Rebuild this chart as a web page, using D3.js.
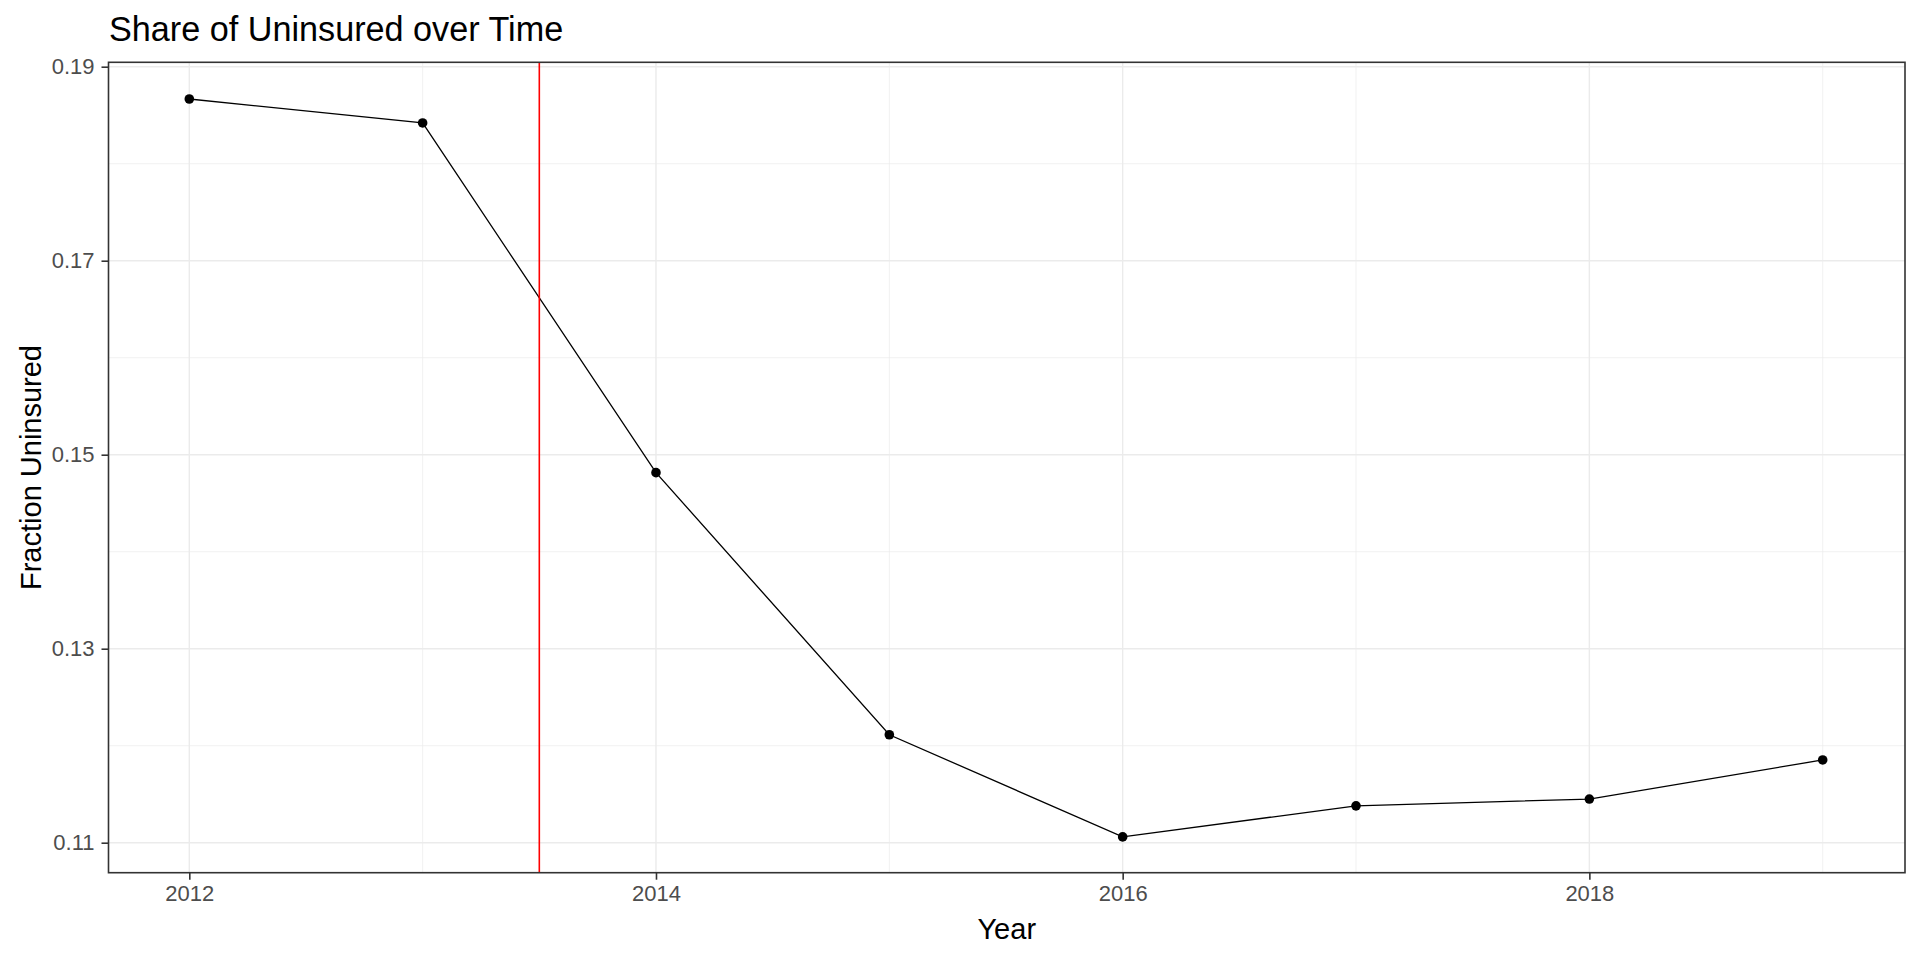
<!DOCTYPE html>
<html>
<head>
<meta charset="utf-8">
<script src="https://cdn.jsdelivr.net/npm/d3@7/dist/d3.min.js"></script>
<style>
  html, body { margin: 0; padding: 0; background: #fff; }
  svg { display: block; font-family: "Liberation Sans", Arial, sans-serif; }
</style>
</head>
<body>
<svg id="chart" width="1920" height="960"></svg>
<script>
const years = [2012, 2013, 2014, 2015, 2016, 2017, 2018, 2019];
const uninsured = [0.18667, 0.1842, 0.14815, 0.12113, 0.1106, 0.1138, 0.1145, 0.11853];
const xTicks = [2012, 2014, 2016, 2018];
const xMinor = [2013, 2015, 2017, 2019];
const yTicks = [0.11, 0.13, 0.15, 0.17, 0.19];
const yMinor = [0.12, 0.14, 0.16, 0.18];
const policyYear = [2013.5];
const titleText = "Share of Uninsured over Time";
const xLabel = "Year";
const yLabel = "Fraction Uninsured";

const svg = d3.select("#chart");
const panel = { left: 108.5, right: 1905, top: 62.3, bottom: 872.7 };

const x = d3.scaleLinear().domain([2012, 2019]).range([189.3, 1822.7]);
const y = d3.scaleLinear().domain([0.11, 0.19]).range([842.7, 66.7]);

svg.append("rect")
  .attr("x", panel.left).attr("y", panel.top)
  .attr("width", panel.right - panel.left).attr("height", panel.bottom - panel.top)
  .attr("fill", "#fff");

const grid = svg.append("g");
grid.selectAll(".ymin").data(yMinor).enter().append("line")
  .attr("x1", panel.left).attr("x2", panel.right)
  .attr("y1", d => y(d)).attr("y2", d => y(d))
  .attr("stroke", "#EBEBEB").attr("stroke-width", 0.7);
grid.selectAll(".xmin").data(xMinor).enter().append("line")
  .attr("y1", panel.top).attr("y2", panel.bottom)
  .attr("x1", d => x(d)).attr("x2", d => x(d))
  .attr("stroke", "#EBEBEB").attr("stroke-width", 0.7);
grid.selectAll(".ymaj").data(yTicks).enter().append("line")
  .attr("x1", panel.left).attr("x2", panel.right)
  .attr("y1", d => y(d)).attr("y2", d => y(d))
  .attr("stroke", "#EBEBEB").attr("stroke-width", 1.4);
grid.selectAll(".xmaj").data(xTicks).enter().append("line")
  .attr("y1", panel.top).attr("y2", panel.bottom)
  .attr("x1", d => x(d)).attr("x2", d => x(d))
  .attr("stroke", "#EBEBEB").attr("stroke-width", 1.4);

const line = d3.line().x((d, i) => x(years[i])).y(d => y(d));
svg.append("path")
  .datum(uninsured)
  .attr("d", line)
  .attr("fill", "none")
  .attr("stroke", "#000")
  .attr("stroke-width", 1.3);

svg.selectAll(".pt").data(uninsured).enter().append("circle")
  .attr("cx", (d, i) => x(years[i]))
  .attr("cy", d => y(d))
  .attr("r", 4.8)
  .attr("fill", "#000");

svg.selectAll(".vline").data(policyYear).enter().append("line")
  .attr("x1", d => x(d)).attr("x2", d => x(d))
  .attr("y1", panel.top).attr("y2", panel.bottom)
  .attr("stroke", "#FF0000").attr("stroke-width", 1.6);

svg.append("rect")
  .attr("x", panel.left).attr("y", panel.top)
  .attr("width", panel.right - panel.left).attr("height", panel.bottom - panel.top)
  .attr("fill", "none").attr("stroke", "#333333").attr("stroke-width", 1.6);

const xAxis = d3.axisBottom(x).tickValues(xTicks).tickFormat(d3.format("d")).tickSize(7).tickPadding(6);
const gx = svg.append("g").attr("transform", `translate(0,${panel.bottom})`).call(xAxis);
gx.select(".domain").remove();
gx.selectAll(".tick line").attr("stroke", "#333333").attr("stroke-width", 1.6);
gx.selectAll(".tick text").attr("fill", "#4D4D4D").style("font-size", "22px")
  .style("font-family", "'Liberation Sans', Arial, sans-serif");

const yAxis = d3.axisLeft(y).tickValues(yTicks).tickFormat(d3.format(".2f")).tickSize(7).tickPadding(7);
const gy = svg.append("g").attr("transform", `translate(${panel.left},0)`).call(yAxis);
gy.select(".domain").remove();
gy.selectAll(".tick line").attr("stroke", "#333333").attr("stroke-width", 1.6);
gy.selectAll(".tick text").attr("fill", "#4D4D4D").style("font-size", "22px")
  .style("font-family", "'Liberation Sans', Arial, sans-serif");

svg.append("text")
  .attr("x", 109).attr("y", 41)
  .attr("fill", "#000")
  .style("font-size", "34.2px")
  .text(titleText);

svg.append("text")
  .attr("x", (panel.left + panel.right) / 2).attr("y", 939)
  .attr("text-anchor", "middle")
  .attr("fill", "#000")
  .style("font-size", "29px")
  .text(xLabel);

svg.append("text")
  .attr("transform", `translate(40.5,${(panel.top + panel.bottom) / 2}) rotate(-90)`)
  .attr("text-anchor", "middle")
  .attr("fill", "#000")
  .style("font-size", "29px")
  .text(yLabel);
</script>
</body>
</html>
